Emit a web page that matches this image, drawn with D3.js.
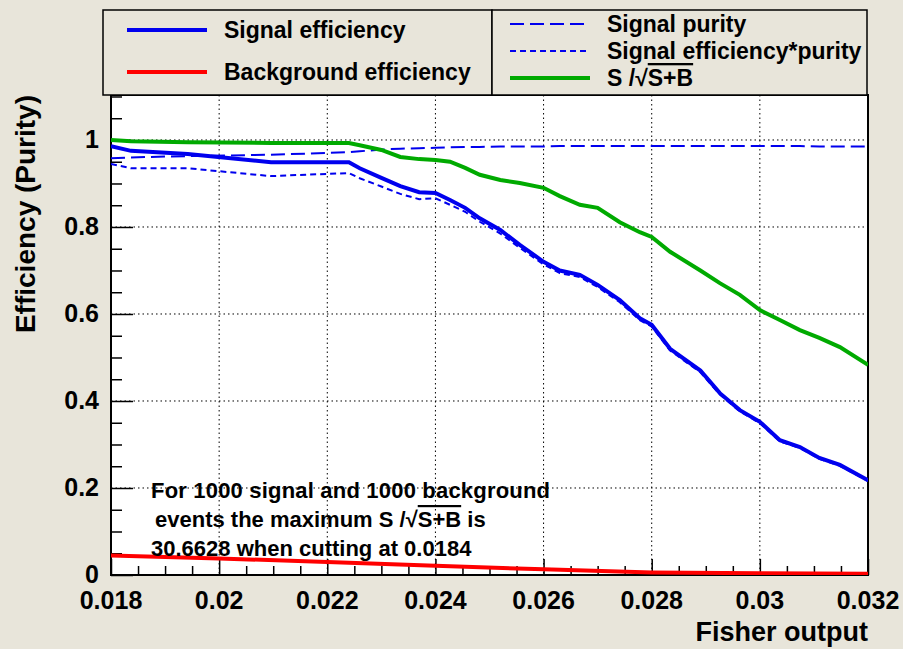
<!DOCTYPE html><html><head><meta charset="utf-8">
<script src="https://cdn.jsdelivr.net/npm/d3@7"></script>
<style>body{margin:0;background:#e8e5da}svg{display:block;font-family:"Liberation Sans",Arial,sans-serif;font-weight:bold}</style>
</head><body><svg id="c" width="903" height="649"></svg>
<script>
const xs      =[0.018,0.01837,0.01942,0.02096,0.0224,0.0226,0.0230,0.02335,0.0237,0.024,0.02427,0.02455,0.02482,0.0252,0.02556,0.026,0.0263,0.02667,0.027,0.02741,0.02778,0.028,0.02834,0.0289,0.02926,0.02963,0.030,0.03037,0.03074,0.0311,0.03148,0.032];
const sigEff  =[0.986,0.975,0.968,0.949,0.949,0.935,0.913,0.894,0.880,0.878,0.862,0.844,0.820,0.793,0.759,0.720,0.700,0.690,0.667,0.632,0.590,0.575,0.520,0.470,0.418,0.379,0.352,0.310,0.294,0.269,0.253,0.218];
const effPur  =[0.945,0.935,0.935,0.917,0.924,0.912,0.893,0.876,0.864,0.866,0.851,0.835,0.812,0.785,0.752,0.714,0.694,0.685,0.662,0.627,0.586,0.571,0.516,0.466,0.415,0.376,0.349,0.307,0.292,0.267,0.251,0.216];
const purity  =[0.958,0.960,0.963,0.966,0.972,0.974,0.978,0.980,0.981,0.982,0.983,0.984,0.984,0.985,0.985,0.985,0.986,0.986,0.986,0.986,0.986,0.986,0.986,0.986,0.986,0.986,0.986,0.986,0.986,0.985,0.985,0.985];
const sosb    =[1.000,0.997,0.995,0.993,0.993,0.988,0.977,0.961,0.956,0.954,0.950,0.936,0.920,0.908,0.901,0.890,0.871,0.851,0.844,0.811,0.788,0.777,0.743,0.700,0.671,0.644,0.609,0.586,0.563,0.545,0.524,0.483];
const bkgX    =[0.018,0.020,0.022,0.024,0.026,0.028,0.030,0.032];
const bkgEff  =[0.045,0.038,0.030,0.021,0.013,0.006,0.004,0.003];
const xTicks  =[0.018,0.02,0.022,0.024,0.026,0.028,0.03,0.032];
const yTicks  =[0,0.2,0.4,0.6,0.8,1];

const svg=d3.select("#c");
const L=111,R=868,T=95,B=575;
const x=d3.scaleLinear().domain([0.018,0.032]).range([L,R]);
const y=d3.scaleLinear().domain([0,1.1034]).range([B,T]);
svg.append("rect").attr("x",L).attr("y",T).attr("width",R-L).attr("height",B-T).attr("fill","#fff");
const g=svg.append("g").attr("stroke","#000").attr("stroke-width",1).attr("stroke-dasharray","1.5,3");
xTicks.slice(1,-1).forEach(t=>g.append("line").attr("x1",x(t)).attr("x2",x(t)).attr("y1",T).attr("y2",B));
yTicks.slice(1).forEach(t=>g.append("line").attr("x1",L).attr("x2",R).attr("y1",y(t)).attr("y2",y(t)));
const xa=svg.append("g").attr("transform",`translate(0,${B})`).call(d3.axisTop(x).tickValues(d3.range(0.018,0.03201,0.0005)).tickSize(9).tickFormat(""));
xa.selectAll(".tick line").attr("y2",(d,i)=>i%4==0?-16:-9);
xa.select(".domain").remove();
const ya=svg.append("g").attr("transform",`translate(${L},0)`).call(d3.axisRight(y).tickValues(d3.range(0,1.101,0.05)).tickSize(9).tickFormat(""));
ya.selectAll(".tick line").attr("x2",(d,i)=>i%4==0?22:11);
ya.select(".domain").remove();
svg.selectAll(".tick line").attr("stroke","#000").attr("stroke-width",1.5);
svg.append("rect").attr("x",L).attr("y",T).attr("width",R-L).attr("height",B-T).attr("fill","none").attr("stroke","#000").attr("stroke-width",2);
xTicks.forEach(t=>svg.append("text").attr("x",x(t)).attr("y",B+34).attr("text-anchor","middle").attr("font-size",25).text(+t.toFixed(3)));
yTicks.forEach(t=>svg.append("text").attr("x",L-12).attr("y",y(t)+8).attr("text-anchor","end").attr("font-size",25).text(t));
svg.append("text").attr("x",R).attr("y",641).attr("text-anchor","end").attr("font-size",27).text("Fisher output");
svg.append("text").attr("transform","translate(35,95) rotate(-90)").attr("text-anchor","end").attr("font-size",28).text("Efficiency (Purity)");
const line=(xv,yv)=>d3.line().x((d,i)=>x(xv[i])).y(d=>y(d))(yv);
svg.append("clipPath").attr("id","cp").append("rect").attr("x",L).attr("y",T).attr("width",R-L).attr("height",B-T);
const cg=svg.append("g").attr("clip-path","url(#cp)").attr("fill","none");
cg.append("path").attr("d",line(bkgX,bkgEff)).attr("stroke","#ff0000").attr("stroke-width",4);
cg.append("path").attr("d",line(xs,purity)).attr("stroke","#0000ee").attr("stroke-width",2).attr("stroke-dasharray","14,6");
cg.append("path").attr("d",line(xs,effPur)).attr("stroke","#0000ee").attr("stroke-width",2).attr("stroke-dasharray","6,4");
cg.append("path").attr("d",line(xs,sosb)).attr("stroke","#00aa00").attr("stroke-width",4);
cg.append("path").attr("d",line(xs,sigEff)).attr("stroke","#0000ee").attr("stroke-width",4);
function sqrtText(sel,pre,rad,post){
 sel.append("tspan").text(pre);
 sel.append("tspan").text("√");
 sel.append("tspan").attr("text-decoration","overline").text(rad);
 if(post) sel.append("tspan").text(post);
}
const nt=svg.append("g").attr("font-size",22);
nt.append("text").attr("x",151).attr("y",498).attr("textLength",399).text("For 1000 signal and 1000 background");
sqrtText(nt.append("text").attr("x",155).attr("y",527),"events the maximum S /","S+B"," is");
nt.append("text").attr("x",151).attr("y",556).text("30.6628 when cutting at 0.0184");
const lg=svg.append("g");
lg.append("rect").attr("x",103).attr("y",10).attr("width",389).attr("height",85).attr("fill","#e8e5da").attr("stroke","#000").attr("stroke-width",1.5);
lg.append("rect").attr("x",492).attr("y",10).attr("width",375).attr("height",85).attr("fill","#e8e5da").attr("stroke","#000").attr("stroke-width",1.5);
const items=[[127,30,"Signal efficiency","#0000ee",null,4],[127,72,"Background efficiency","#ff0000",null,4],
 [510,24,"Signal purity","#0000ee","14,6",2],[510,51,"Signal efficiency*purity","#0000ee","6,4",2],[510,78,null,"#00aa00",null,4]];
items.forEach(([lx,ly,txt,c,da,w])=>{
 lg.append("line").attr("x1",lx).attr("x2",lx+80).attr("y1",ly).attr("y2",ly).attr("stroke",c).attr("stroke-width",w).attr("stroke-dasharray",da);
 const t=lg.append("text").attr("x",lx+97).attr("y",ly+8).attr("font-size",23);
 if(txt) t.text(txt); else sqrtText(t,"S /","S+B");
});
</script></body></html>
